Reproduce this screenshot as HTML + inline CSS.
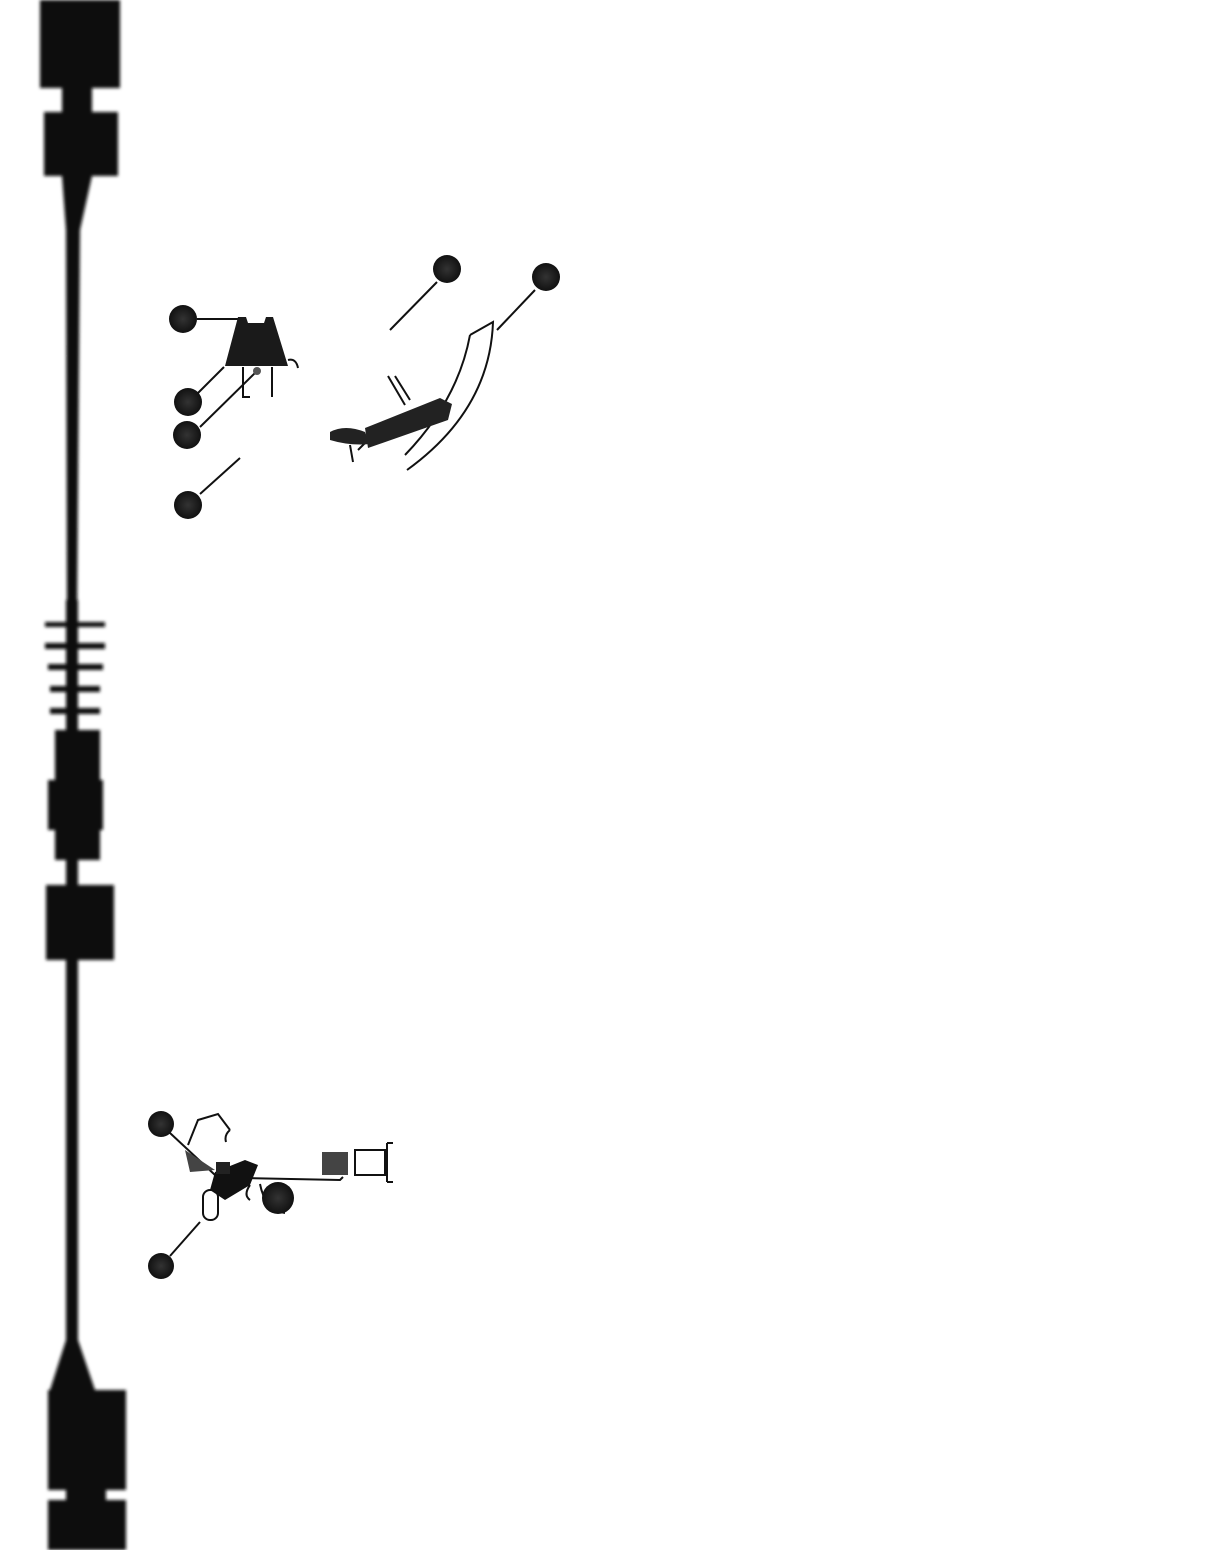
<!DOCTYPE html>
<html><head><meta charset="utf-8"><style>
html,body{margin:0;padding:0;background:#fff;width:1221px;height:1550px;overflow:hidden}
</style></head><body>
<svg width="1221" height="1550" viewBox="0 0 1221 1550" xmlns="http://www.w3.org/2000/svg">
<defs>
<radialGradient id="b" cx="0.5" cy="0.5" r="0.5"><stop offset="0" stop-color="#333"/><stop offset="1" stop-color="#111"/></radialGradient>
<filter id="f"><feGaussianBlur stdDeviation="1.5"/></filter>
</defs>
<rect width="1221" height="1550" fill="#fff"/>
<!-- binding strip -->
<g fill="#111" filter="url(#f)">
<rect x="40" y="0" width="80" height="88"/>
<rect x="62" y="88" width="30" height="24"/>
<rect x="44" y="112" width="74" height="64"/>
<path d="M62 176 L92 176 L80 230 L77 620 L67 620 L66 230 Z"/>
<rect x="66" y="600" width="12" height="140"/>
<rect x="45" y="622" width="60" height="5"/>
<rect x="45" y="643" width="60" height="6"/>
<rect x="48" y="664" width="55" height="6"/>
<rect x="50" y="686" width="50" height="6"/>
<rect x="50" y="708" width="50" height="6"/>
<rect x="55" y="730" width="45" height="130"/>
<rect x="48" y="780" width="55" height="50"/>
<rect x="66" y="860" width="12" height="25"/>
<rect x="46" y="885" width="68" height="75"/>
<rect x="66" y="960" width="12" height="420"/>
<path d="M66 1340 L78 1340 L95 1390 L50 1390 Z"/>
<rect x="48" y="1390" width="78" height="100"/>
<rect x="66" y="1490" width="40" height="10"/>
<rect x="48" y="1500" width="78" height="50"/>
</g>
<!-- top-left diagram -->
<g stroke="#111" stroke-width="2" fill="none">
<line x1="197" y1="319" x2="240" y2="319"/>
<line x1="198" y1="393" x2="224" y2="367"/>
<line x1="200" y1="427" x2="255" y2="373"/>
<line x1="200" y1="494" x2="240" y2="458"/>
<line x1="437" y1="282" x2="390" y2="330"/>
<line x1="535" y1="290" x2="497" y2="330"/>
<path d="M243 367 L243 397 L250 397 M272 367 L272 397"/>
<path d="M288 360 Q296 358 298 368"/>
<path d="M470 335 L493 322 Q490 410 407 470"/>
<path d="M470 335 Q458 400 405 455"/>
<path d="M388 376 L405 405 M395 376 L410 400"/>
<path d="M350 445 L353 462 M365 443 L358 450"/>
</g>
<path d="M238 317 L246 317 L248 323 L264 323 L266 317 L273 317 L288 366 L225 366 Z" fill="#1a1a1a"/>
<circle cx="257" cy="371" r="4" fill="#555"/>
<path d="M365 428 L440 398 L452 404 L448 420 L368 448 Z" fill="#222"/>
<path d="M330 432 Q345 424 365 432 L370 444 Q350 446 330 440 Z" fill="#222"/>
<g fill="url(#b)">
<circle cx="183" cy="319" r="14"/><circle cx="447" cy="269" r="14"/><circle cx="546" cy="277" r="14"/>
<circle cx="188" cy="402" r="14"/><circle cx="187" cy="435" r="14"/><circle cx="188" cy="505" r="14"/>
</g>
<!-- bottom diagram -->
<g stroke="#111" stroke-width="2" fill="none">
<line x1="170" y1="1133" x2="215" y2="1175"/>
<line x1="170" y1="1256" x2="200" y2="1222"/>
<path d="M188 1145 L198 1120 L218 1114 L230 1130 M230 1130 Q224 1135 226 1142"/>
<path d="M245 1178 L340 1180 L343 1177"/>
<path d="M260 1184 Q265 1210 285 1213"/>
<rect x="203" y="1190" width="15" height="30" rx="7"/>
<rect x="355" y="1150" width="30" height="25"/>
<path d="M387 1143 L387 1182 M387 1143 L393 1143 M387 1182 L393 1182"/>
<path d="M250 1185 Q243 1195 250 1200"/>
</g>
<path d="M185 1150 L215 1170 L190 1172 Z" fill="#444"/>
<path d="M215 1172 L245 1160 L258 1165 L250 1185 L225 1200 L210 1190 Z" fill="#111"/>
<rect x="216" y="1162" width="14" height="12" fill="#222"/>
<rect x="322" y="1152" width="26" height="23" fill="#444"/>
<g fill="url(#b)">
<circle cx="161" cy="1124" r="13"/><circle cx="161" cy="1266" r="13"/><circle cx="278" cy="1198" r="16"/>
</g>
</svg>
</body></html>
